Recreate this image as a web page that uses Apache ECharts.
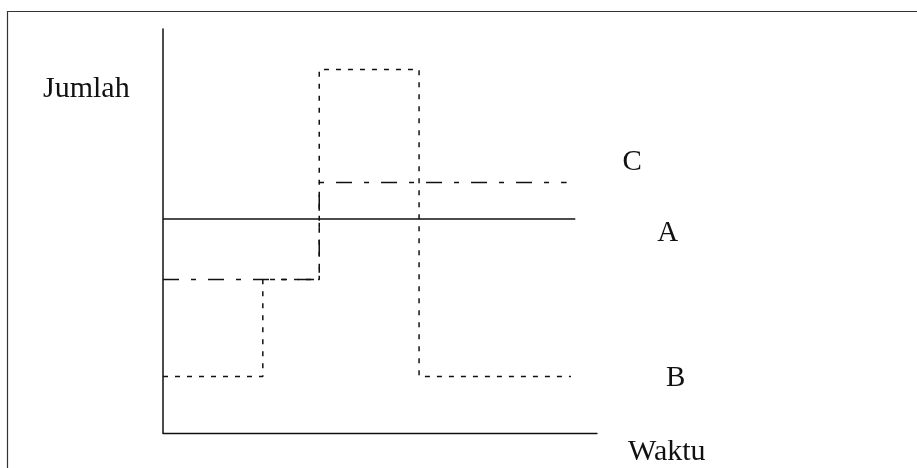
<!DOCTYPE html>
<html>
<head>
<meta charset="utf-8">
<script src="https://cdn.jsdelivr.net/npm/echarts@6/dist/echarts.min.js"></script>
<style>
  html, body { margin: 0; padding: 0; background: #fff; }
  #chart { width: 917px; height: 468px; }
</style>
</head>
<body>
<div id="chart"></div>
<script>
// x = waktu (0..100), y = jumlah (0..100)
var seriesA = [[0, 53], [95, 53]];
var seriesB = [[0, 14], [23, 38], [36, 90], [59, 14], [94, 14]];
var seriesC = [[0, 38], [36, 62], [93, 62]];
var axisNames = { x: "Waktu", y: "Jumlah" };

var ink = "#111";
var font = "Liberation Serif, Times New Roman, serif";

var chart = echarts.init(document.getElementById("chart"));

function endLabel(dx, dy) {
  return {
    show: true,
    formatter: "{a}",
    color: ink,
    fontFamily: font,
    fontSize: 29,
    offset: [dx, dy],
  };
}

var option = {
  animation: false,
  backgroundColor: "#fff",
  grid: { left: 163, right: 320, top: 29, bottom: 35 },
  xAxis: {
    type: "value",
    min: 0,
    max: 100,
    axisLine: { show: true, onZero: false, lineStyle: { color: ink, width: 1.3 } },
    axisTick: { show: false },
    axisLabel: { show: false },
    splitLine: { show: false },
  },
  yAxis: {
    type: "value",
    min: 0,
    max: 100,
    axisLine: { show: true, lineStyle: { color: ink, width: 1.5 } },
    axisTick: { show: false },
    axisLabel: { show: false },
    splitLine: { show: false },
  },
  graphic: [
    {
      type: "rect",
      silent: true,
      shape: { x: 7.5, y: 11.5, width: 1000, height: 1000 },
      style: { fill: null, stroke: "#333", lineWidth: 1.2 },
    },
    {
      type: "text",
      left: 43,
      top: 74,
      style: { text: axisNames.y, font: "30px " + font, fill: ink },
    },
    {
      type: "text",
      left: 628,
      top: 437,
      style: { text: axisNames.x, font: "30px " + font, fill: ink },
    },
  ],
  series: [
    {
      name: "A",
      type: "line",
      data: seriesA,
      symbol: "none",
      lineStyle: { color: ink, width: 1.5, type: "solid" },
      endLabel: endLabel(74, 15),
    },
    {
      name: "B",
      type: "line",
      step: "end",
      data: seriesB,
      symbol: "none",
      lineStyle: { color: ink, width: 1.5, type: [5, 7] },
      endLabel: endLabel(87, 2),
    },
    {
      name: "C",
      type: "line",
      step: "end",
      data: seriesC,
      symbol: "none",
      lineStyle: { color: ink, width: 1.5, type: [16, 12, 5, 12] },
      endLabel: endLabel(48, -20),
    },
  ],
};

chart.setOption(option);
</script>
</body>
</html>
